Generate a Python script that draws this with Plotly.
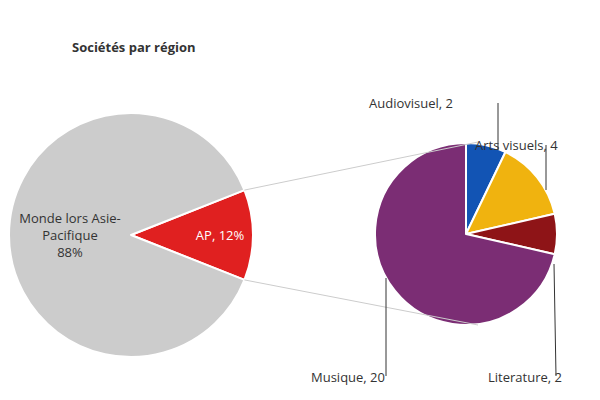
import math
import plotly.graph_objects as go

# données
region_labels = ['AP', 'Monde lors Asie-Pacifique']
region_values = [12, 88]
region_text = ['AP, 12%', 'Monde lors Asie-<br>Pacifique<br>88%']
region_colors = ['#e02020', '#cccccc']

secteur_labels = ['Audiovisuel', 'Arts visuels', 'Literature', 'Musique']
secteur_values = [2, 4, 2, 20]
secteur_colors = ['#1254b4', '#f0b30f', '#8e1417', '#7b2d74']

W, H = 600, 400
def px_x(x): return x / W
def px_y(y): return 1 - y / H

fig = go.Figure()

# camembert de gauche
cx1, cy1, r1 = 123, 227, 122
ap_angle = 360 * region_values[0] / sum(region_values)
fig.add_trace(go.Pie(
    labels=region_labels, values=region_values, text=region_text,
    texttemplate='%{text}', textposition='inside', insidetextorientation='horizontal',
    marker=dict(colors=region_colors, line=dict(color='white', width=2)),
    sort=False, direction='clockwise', rotation=90 - ap_angle / 2,
    textfont=dict(color=['white', '#333333'], size=13),
    domain=dict(x=[px_x(cx1 - r1), px_x(cx1 + r1)], y=[px_y(cy1 + r1), px_y(cy1 - r1)]),
    hoverinfo='label+value', showlegend=False))

# camembert de droite
cx2, cy2, r2 = 458, 226, 91
fig.add_trace(go.Pie(
    labels=secteur_labels, values=secteur_values, textinfo='none',
    marker=dict(colors=secteur_colors, line=dict(color='white', width=2)),
    sort=False, direction='clockwise', rotation=0,
    domain=dict(x=[px_x(cx2 - r2), px_x(cx2 + r2)], y=[px_y(cy2 + r2), px_y(cy2 - r2)]),
    hoverinfo='label+value', showlegend=False))

# lignes de liaison
half = math.radians(ap_angle / 2)
shapes = []
for sgn, end in [(-1, (470, 134)), (1, (470, 317))]:
    x0 = cx1 + r1 * math.cos(half)
    y0 = cy1 + sgn * r1 * math.sin(half)
    shapes.append(dict(type='line', xref='paper', yref='paper',
                       x0=px_x(x0), y0=px_y(y0), x1=px_x(end[0]), y1=px_y(end[1]),
                       line=dict(color='#cccccc', width=1)))

# étiquettes avec traits
etiquettes = [
    ('Audiovisuel, 2', 447, 84, 490, 95, 490, 142),
    ('Arts visuels, 4', 552, 126, 538, 137, 538, 182),
    ('Literature, 2', 556, 380, 548, 368, 546, 256),
    ('Musique, 20', 340, 380, 378, 368, 378, 270),
]
annotations = []
for i, (txt, tx, ty, lx0, ly0, lx1, ly1) in enumerate(etiquettes):
    annotations.append(dict(text=f'{txt}', x=px_x(tx), y=px_y(ty), xref='paper', yref='paper',
                            showarrow=False, font=dict(size=13, color='#333333')))
    shapes.append(dict(type='line', xref='paper', yref='paper',
                       x0=px_x(lx0), y0=px_y(ly0), x1=px_x(lx1), y1=px_y(ly1),
                       line=dict(color='#333333', width=1)))

annotations.append(dict(text='<b>Sociétés par région</b>', x=px_x(62), y=px_y(28),
                        xref='paper', yref='paper', xanchor='left', showarrow=False,
                        font=dict(size=13, color='#333333')))

fig.update_layout(width=W, height=H, margin=dict(l=0, r=0, t=0, b=0),
                  paper_bgcolor='white', plot_bgcolor='white',
                  font=dict(family='Open Sans', color='#333333'),
                  shapes=shapes, annotations=annotations)

fig.write_html('out.html')
